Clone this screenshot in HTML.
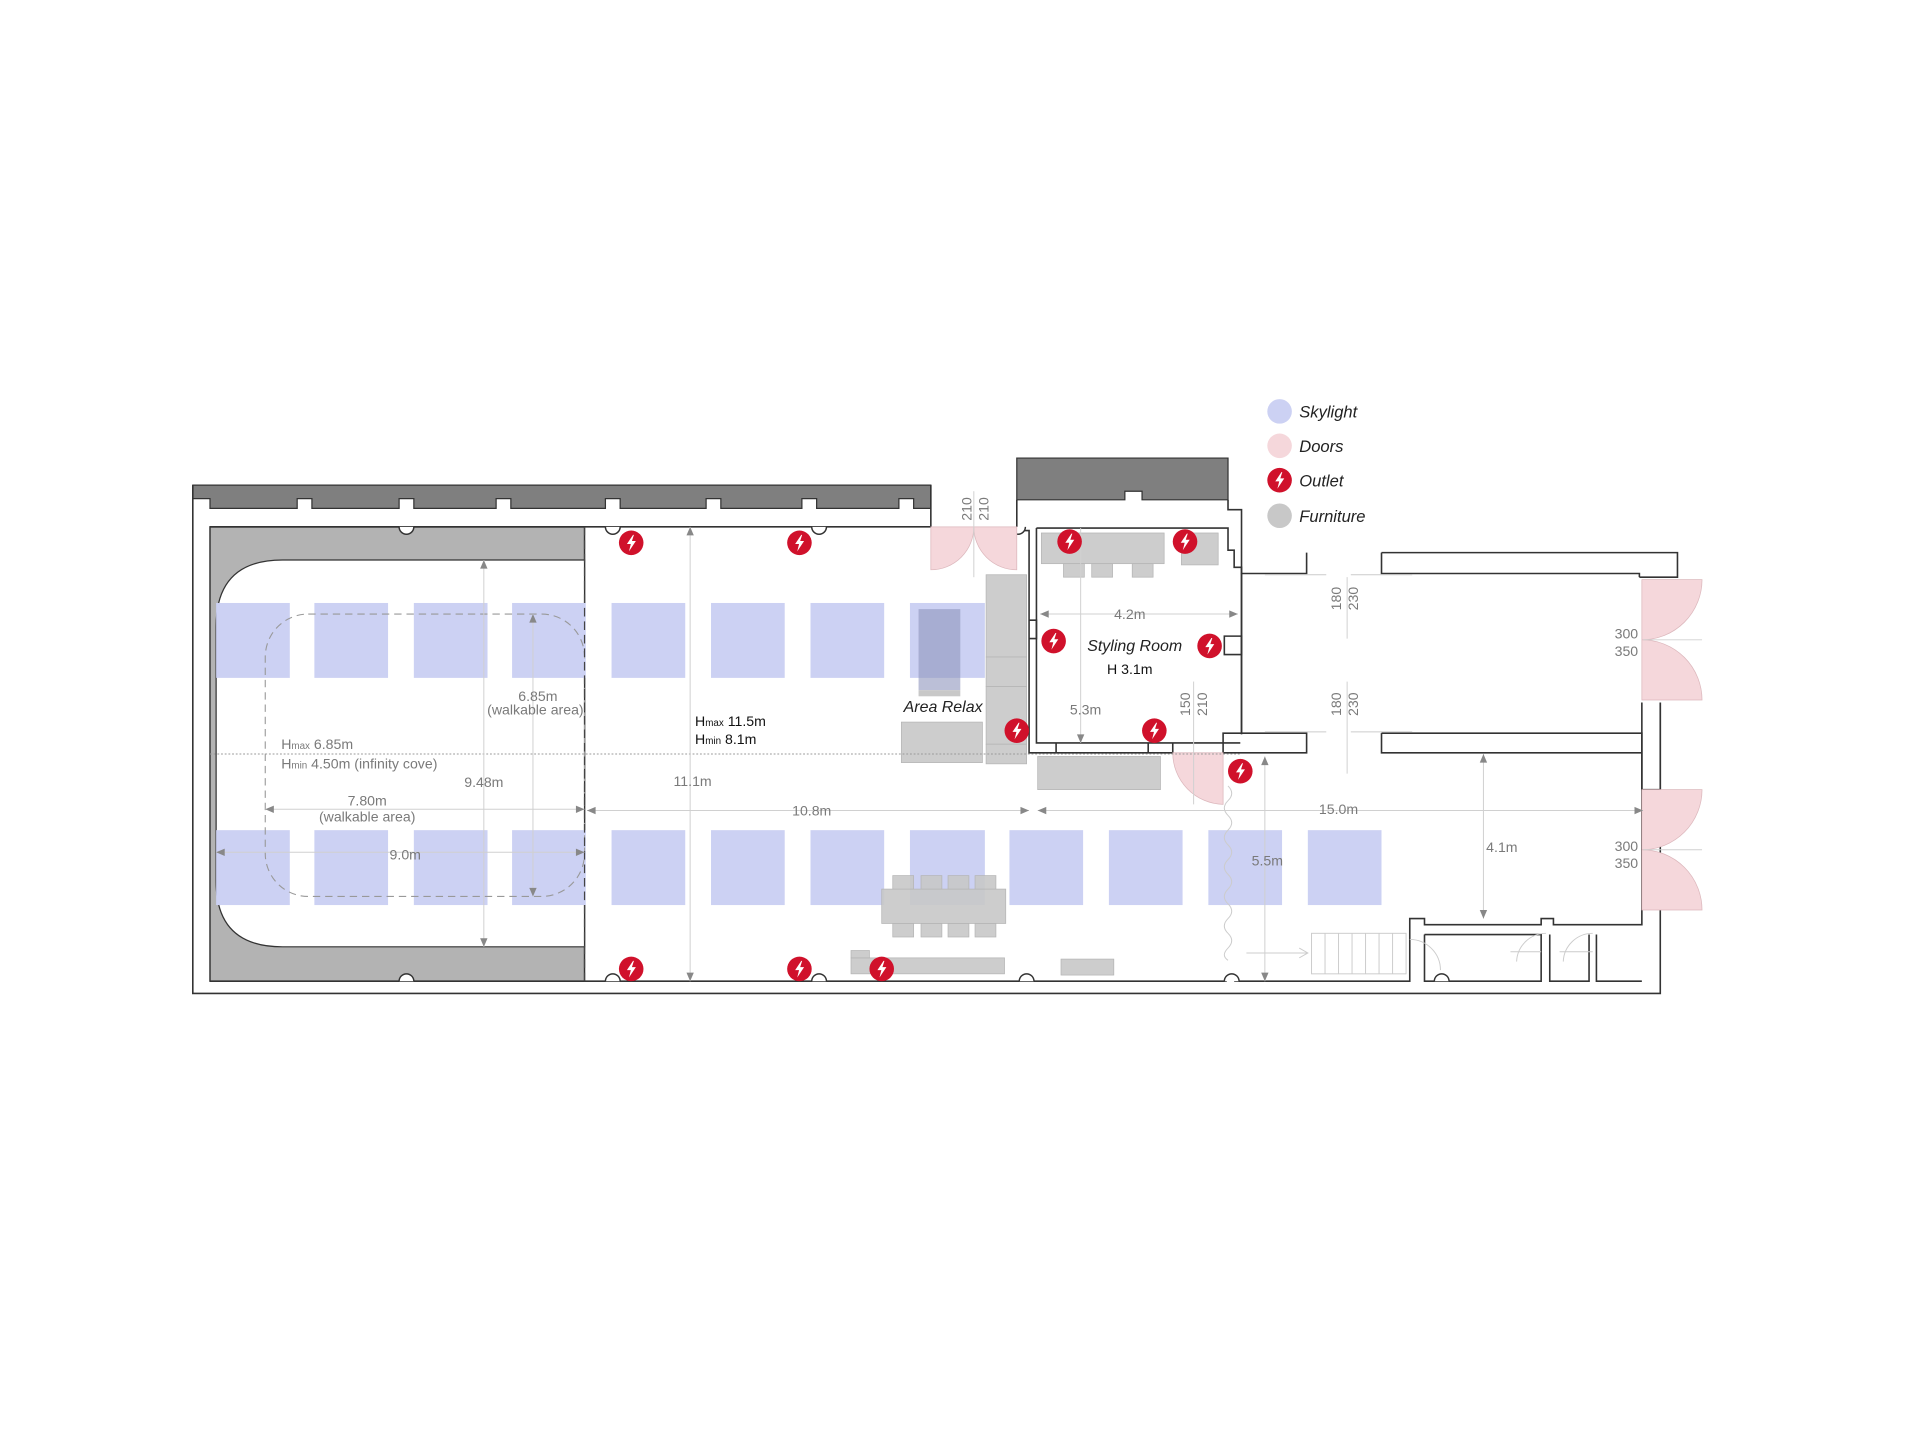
<!DOCTYPE html>
<html><head><meta charset="utf-8"><style>
html,body{margin:0;padding:0;background:#fff;}
svg{display:block;}
text{font-family:"Liberation Sans",sans-serif;}
.d{fill:#7a7a7a;font-size:11.5px;}
.w{fill:none;stroke:#333;stroke-width:1.3;}
.dl{stroke:#d0d0d0;stroke-width:0.8;fill:none;}
.sk{fill:#ccd1f3;}
.fu{fill:#c8c8c8;stroke:#b5b5b5;stroke-width:0.6;}
.dr{fill:#f5d7db;stroke:#dcb7bc;stroke-width:0.6;}
</style></head><body>
<svg width="1920" height="1440" viewBox="0 0 1563.5 1172.6" xmlns="http://www.w3.org/2000/svg">
<defs>
<g id="out"><circle r="10" fill="#d0112b"/><path d="M1.5,-6.5 L-3.5,1 L-0.3,1 L-1.8,7 L3.8,-1.5 L0.6,-1.5 L2.2,-6.5 Z" fill="#fff"/></g>
</defs>
<!-- top dark bands -->
<path d="M157,395 H758 V414 H744 V406 H732 V414 H665 V406 H653 V414 H587 V406 H575 V414 H505 V406 H493 V414 H416 V406 H404 V414 H337 V406 H325 V414 H254 V406 H242 V414 H171 V406 H157 Z" fill="#7f7f7f" stroke="#333" stroke-width="1"/>
<path d="M828,373 H1000 V407 H930 V400 H916 V407 H828 Z" fill="#7f7f7f" stroke="#333" stroke-width="1"/>
<!-- outer wall -->
<path class="w" d="M157,395 V809 H1352 V572"/>
<path class="w" d="M758,395 V429"/>
<path class="w" d="M828,407 V429"/>
<path class="w" d="M1000,407 V415 H1011 V467 H1064 V450"/>
<!-- cyc -->
<path d="M171,429 H476 V799 H171 Z" fill="#b3b3b3" stroke="#333" stroke-width="1.2"/>
<path d="M476,456 H230 Q176,456 176,510 V718 Q176,771 230,771 H476 Z" fill="#fff" stroke="#333" stroke-width="1"/>
<!-- inner walls -->
<path class="w" d="M171,429 H758"/>
<path class="w" d="M171,799 H999"/>
<path class="w" d="M1005,799 H1148 V748 H1160 V753 H1255 V748 H1265 V753 H1337 V572"/>
<path class="w" d="M1160,761 V799 H1255 V761 H1160 M1262,761 V799 H1294 V761 M1300,761 V799 H1337"/>
<path class="w" d="M828,429 V432 H838 V613 H955 V605"/>
<path class="w" d="M844,430 H1000 V448 H1005 V462 H1011 V598"/>
<path class="w" d="M844,430 V605 H1010"/>
<path class="w" d="M1011,467 V597"/>
<path class="w" d="M996,597 H1064 V613 H996 Z"/>
<path class="w" d="M1125,450 H1366 V470 H1335 M1125,450 V467 H1335 V470"/>
<path class="w" d="M1125,597 H1337 V643 H1352 V572 M1125,597 V613 H1337"/>
<path class="w" d="M860,605 V613 M935,605 V613"/>
<path class="w" d="M997,518 H1011 V533 H997 Z"/>
<path class="w" d="M838,505 H844 V520 H838"/>
<!-- pilasters -->
<g fill="#fff" stroke="#333" stroke-width="1.2">
<path d="M325,429 A5,5 0 0 0 337,429"/><path d="M493,429 A5,5 0 0 0 505,429"/><path d="M661,429 A5,5 0 0 0 673,429"/><path d="M823,429 A5,5 0 0 0 835,429"/>
<path d="M325,799 A5,5 0 0 1 337,799"/><path d="M493,799 A5,5 0 0 1 505,799"/><path d="M661,799 A5,5 0 0 1 673,799"/><path d="M830,799 A5,5 0 0 1 842,799"/><path d="M997,799 A5,5 0 0 1 1009,799"/><path d="M1168,799 A5,5 0 0 1 1180,799"/>
</g>
<!-- skylights -->
<g class="sk">
<rect x="176" y="491" width="60" height="61"/><rect x="256" y="491" width="60" height="61"/><rect x="337" y="491" width="60" height="61"/><rect x="417" y="491" width="60" height="61"/><rect x="498" y="491" width="60" height="61"/><rect x="579" y="491" width="60" height="61"/><rect x="660" y="491" width="60" height="61"/><rect x="741" y="491" width="61" height="61"/>
<rect x="176" y="676" width="60" height="61"/><rect x="256" y="676" width="60" height="61"/><rect x="337" y="676" width="60" height="61"/><rect x="417" y="676" width="60" height="61"/><rect x="498" y="676" width="60" height="61"/><rect x="579" y="676" width="60" height="61"/><rect x="660" y="676" width="60" height="61"/><rect x="741" y="676" width="61" height="61"/><rect x="822" y="676" width="60" height="61"/><rect x="903" y="676" width="60" height="61"/><rect x="984" y="676" width="60" height="61"/><rect x="1065" y="676" width="60" height="61"/>
</g>
<!-- furniture -->
<g class="fu" fill-opacity="0.9">
<rect x="848" y="434" width="100" height="25"/><rect x="866" y="459" width="17" height="11"/><rect x="889" y="459" width="17" height="11"/><rect x="922" y="459" width="17" height="11"/><rect x="962" y="434" width="30" height="26"/>
<rect x="803" y="468" width="33" height="67"/><rect x="803" y="535" width="33" height="24"/><rect x="803" y="559" width="33" height="47"/><rect x="803" y="606" width="33" height="16"/>
<rect x="734" y="588" width="66" height="33"/><rect x="845" y="616" width="100" height="27"/>
<rect x="718" y="724" width="101" height="28"/>
<rect x="727" y="713" width="17" height="11"/><rect x="750" y="713" width="17" height="11"/><rect x="772" y="713" width="17" height="11"/><rect x="794" y="713" width="17" height="11"/>
<rect x="727" y="752" width="17" height="11"/><rect x="750" y="752" width="17" height="11"/><rect x="772" y="752" width="17" height="11"/><rect x="794" y="752" width="17" height="11"/>
<rect x="693" y="780" width="125" height="13"/><rect x="693" y="774" width="15" height="6"/><rect x="864" y="781" width="43" height="13"/>
</g>
<rect x="748" y="496" width="34" height="66" fill="#8e95bd" fill-opacity="0.6"/>
<rect x="748" y="562" width="34" height="5" fill="#c8c8c8"/>
<!-- doors -->
<g class="dr">
<path d="M758,429 V464 A35,35 0 0 0 793,429 Z"/><path d="M828,429 V464 A35,35 0 0 1 793,429 Z"/>
<path d="M1337,472 H1386 A49,49 0 0 1 1337,521 Z"/><path d="M1337,521 A49,49 0 0 1 1386,570 H1337 Z"/>
<path d="M1337,643 H1386 A49,49 0 0 1 1337,692 Z"/><path d="M1337,692 A49,49 0 0 1 1386,741 H1337 Z"/>
<path d="M955,613 H996 V655 A42,42 0 0 1 955,613 Z"/>
</g>
<!-- stairs -->
<g stroke="#ccc" stroke-width="0.8" fill="none">
<rect x="1068" y="760" width="77" height="33"/>
<path d="M1079,760 V793 M1090,760 V793 M1101,760 V793 M1112,760 V793 M1123,760 V793 M1134,760 V793"/>
<path d="M1015,776 H1065 M1058,772 L1065,776 L1058,780"/>
<path d="M1148,765 A25,25 0 0 1 1173,790 M1235,783 A24,24 0 0 1 1259,760 M1273,783 A24,24 0 0 1 1297,760 M1230,775 H1255 M1270,775 H1297"/>
<path d="M1000,640 q6,6 0,12 q-6,6 0,12 q6,6 0,12 q-6,6 0,12 q6,6 0,12 q-6,6 0,12 q6,6 0,12 q-6,6 0,12 q6,6 0,12 q-6,6 0,12 q6,6 0,12 q-6,6 0,10"/>
<path d="M1030,468 H1080 M1100,468 H1150 M1030,596 H1080 M1100,596 H1150"/>
</g>
<!-- dashed walkable + dotted -->
<rect x="216" y="500" width="260" height="230" rx="35" fill="none" stroke="#999" stroke-width="0.9" stroke-dasharray="6,4"/>
<path d="M476,429 V799" stroke="#444" stroke-width="1" stroke-dasharray="7,4"/>
<path d="M171,614 H1010" stroke="#999" stroke-width="0.8" stroke-dasharray="1.5,1.5"/>
<!-- dimension lines -->
<g class="dl">
<path d="M394,456 V771"/><path d="M434,500 V730"/><path d="M562,429 V799"/><path d="M880,430 V605"/><path d="M1030,616 V799"/><path d="M1208,614 V748"/>
<path d="M216,659 H476"/><path d="M176,694 H476"/><path d="M478,660 H838"/><path d="M845,660 H1338"/><path d="M847,500 H1008"/>
<path d="M793,400 V470"/><path d="M1097,470 V520 M1097,555 V630"/><path d="M972,555 V655"/><path d="M1338,521 H1386 M1338,692 H1386"/>
</g>
<g fill="#888">
<path d="M391,463 L394,456 L397,463Z"/><path d="M391,764 L394,771 L397,764Z"/><path d="M431,507 L434,500 L437,507Z"/><path d="M431,723 L434,730 L437,723Z"/>
<path d="M559,436 L562,429 L565,436Z"/><path d="M559,792 L562,799 L565,792Z"/><path d="M877,598 L880,605 L883,598Z"/>
<path d="M1027,623 L1030,616 L1033,623Z"/><path d="M1027,792 L1030,799 L1033,792Z"/><path d="M1205,621 L1208,614 L1211,621Z"/><path d="M1205,741 L1208,748 L1211,741Z"/>
<path d="M223,656 L216,659 L223,662Z"/><path d="M469,656 L476,659 L469,662Z"/><path d="M183,691 L176,694 L183,697Z"/><path d="M469,691 L476,694 L469,697Z"/>
<path d="M485,657 L478,660 L485,663Z"/><path d="M831,657 L838,660 L831,663Z"/><path d="M852,657 L845,660 L852,663Z"/><path d="M1331,657 L1338,660 L1331,663Z"/>
<path d="M854,497 L847,500 L854,503Z"/><path d="M1001,497 L1008,500 L1001,503Z"/>
</g>
<!-- labels -->
<text class="d" x="438" y="571" text-anchor="middle">6.85m</text>
<text class="d" x="436" y="582" text-anchor="middle">(walkable area)</text>
<text class="d" x="229" y="610">H<tspan font-size="8">max</tspan> 6.85m</text>
<text class="d" x="229" y="626">H<tspan font-size="8">min</tspan> 4.50m (infinity cove)</text>
<text class="d" x="394" y="641" text-anchor="middle">9.48m</text>
<text class="d" x="299" y="656" text-anchor="middle">7.80m</text>
<text class="d" x="299" y="669" text-anchor="middle">(walkable area)</text>
<text class="d" x="330" y="700" text-anchor="middle">9.0m</text>
<text class="d" x="564" y="640" text-anchor="middle">11.1m</text>
<text class="d" x="661" y="664" text-anchor="middle">10.8m</text>
<text class="d" x="1090" y="663" text-anchor="middle">15.0m</text>
<text class="d" x="920" y="504" text-anchor="middle">4.2m</text>
<text class="d" x="884" y="582" text-anchor="middle">5.3m</text>
<text class="d" x="1032" y="705" text-anchor="middle">5.5m</text>
<text class="d" x="1223" y="694" text-anchor="middle">4.1m</text>
<text x="566" y="591" font-size="11.5" fill="#111">H<tspan font-size="8">max</tspan> 11.5m</text>
<text x="566" y="606" font-size="11.5" fill="#111">H<tspan font-size="8">min</tspan> 8.1m</text>
<text x="768" y="580" font-size="13" font-style="italic" fill="#222" text-anchor="middle">Area Relax</text>
<text x="924" y="530" font-size="13" font-style="italic" fill="#222" text-anchor="middle">Styling Room</text>
<text x="920" y="549" font-size="11.5" fill="#111" text-anchor="middle">H 3.1m</text>
<g class="d">
<text transform="translate(791,424) rotate(-90)">210</text><text transform="translate(805,424) rotate(-90)">210</text>
<text transform="translate(1092,497) rotate(-90)">180</text><text transform="translate(1106,497) rotate(-90)">230</text>
<text transform="translate(1092,583) rotate(-90)">180</text><text transform="translate(1106,583) rotate(-90)">230</text>
<text transform="translate(969,583) rotate(-90)">150</text><text transform="translate(983,583) rotate(-90)">210</text>
<text x="1334" y="520" text-anchor="end">300</text><text x="1334" y="534" text-anchor="end">350</text>
<text x="1334" y="693" text-anchor="end">300</text><text x="1334" y="707" text-anchor="end">350</text>
</g>
<!-- outlets -->
<use href="#out" x="514" y="442"/><use href="#out" x="651" y="442"/><use href="#out" x="871" y="441"/><use href="#out" x="965" y="441"/>
<use href="#out" x="858" y="522"/><use href="#out" x="985" y="526"/><use href="#out" x="828" y="595"/><use href="#out" x="940" y="595"/>
<use href="#out" x="1010" y="628"/><use href="#out" x="514" y="789"/><use href="#out" x="651" y="789"/><use href="#out" x="718" y="789"/>
<!-- legend -->
<circle cx="1042" cy="335" r="10" fill="#ccd1f3"/><circle cx="1042" cy="363" r="10" fill="#f5d7db"/><use href="#out" x="1042" y="391"/><circle cx="1042" cy="420" r="10" fill="#c8c8c8"/>
<g font-size="13.5" font-style="italic" fill="#222">
<text x="1058" y="340">Skylight</text><text x="1058" y="368">Doors</text><text x="1058" y="396">Outlet</text><text x="1058" y="425">Furniture</text>
</g>
</svg>
</body></html>
